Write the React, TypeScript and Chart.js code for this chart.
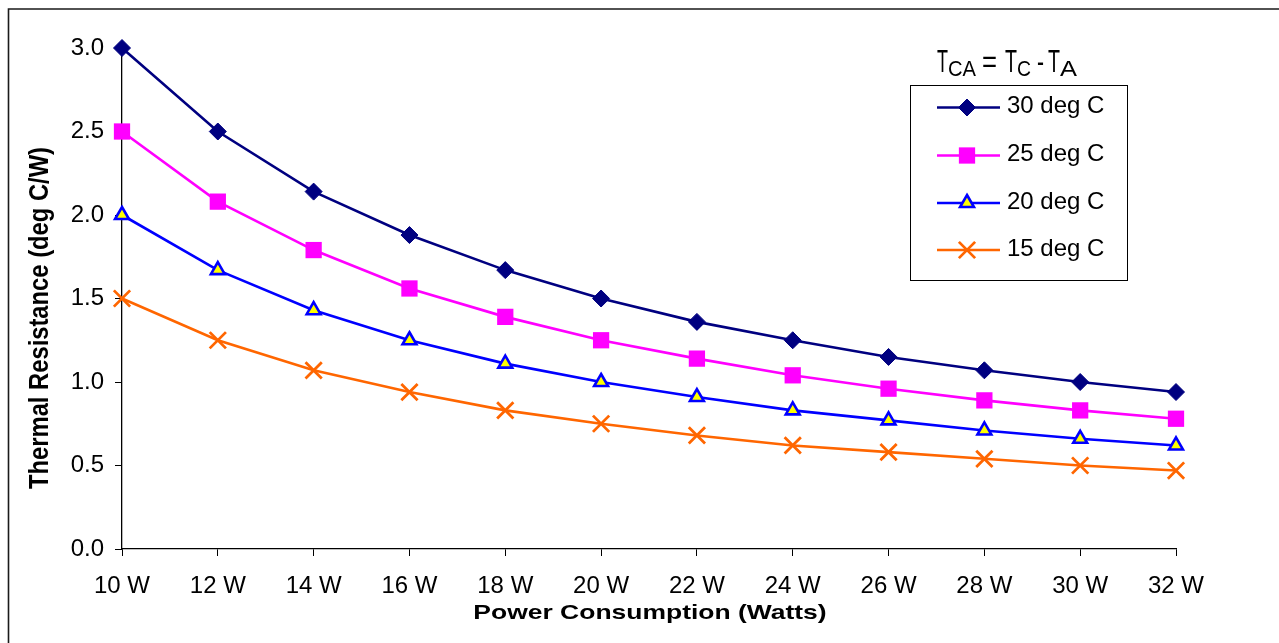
import React, { useEffect, useRef } from 'react';
import { Chart, registerables } from 'chart.js';
import { drawPoint } from 'chart.js/helpers';

Chart.register(...registerables);

// ---- data ----
const categories = ['10 W', '12 W', '14 W', '16 W', '18 W', '20 W', '22 W', '24 W', '26 W', '28 W', '30 W', '32 W'];
const seriesNames = ['30 deg C', '25 deg C', '20 deg C', '15 deg C'];
const values30 = [3.0, 2.5, 2.14, 1.88, 1.67, 1.5, 1.36, 1.25, 1.15, 1.07, 1.0, 0.94];
const values25 = [2.5, 2.08, 1.79, 1.56, 1.39, 1.25, 1.14, 1.04, 0.96, 0.89, 0.83, 0.78];
const values20 = [2.0, 1.67, 1.43, 1.25, 1.11, 1.0, 0.91, 0.83, 0.77, 0.71, 0.66, 0.62];
const values15 = [1.5, 1.25, 1.07, 0.94, 0.83, 0.75, 0.68, 0.62, 0.58, 0.54, 0.5, 0.47];
const yTickValues = [0, 0.5, 1.0, 1.5, 2.0, 2.5, 3.0];
const xTitle = 'Power Consumption (Watts)';
const yTitle = 'Thermal Resistance (deg C/W)';
const legendTitleParts = [
  { text: 'T', sub: false },
  { text: 'CA', sub: true },
  { text: '=', sub: false },
  { text: 'T', sub: false },
  { text: 'C', sub: true },
  { text: '-', sub: false },
  { text: 'T', sub: false },
  { text: 'A', sub: true },
];

const FONT = "'Liberation Sans', Arial, Helvetica, sans-serif";

// layout of legend title pieces (x, width)
const legendTitleLayout = [
  [937, 11], [948, 28], [982, 15], [1005, 12], [1017, 14], [1037, 7], [1048, 12], [1060, 17],
];

const decorPlugin = {
  id: 'decor',
  beforeDraw(chart: any) {
    const ctx = chart.ctx;
    ctx.save();
    ctx.fillStyle = '#ffffff';
    ctx.fillRect(0, 0, chart.width, chart.height);
    ctx.strokeStyle = '#1a1a1a';
    ctx.lineWidth = 1.6;
    ctx.beginPath();
    ctx.moveTo(8.5, chart.height + 2);
    ctx.lineTo(8.5, 9);
    ctx.lineTo(chart.width + 2, 9);
    ctx.stroke();
    ctx.restore();
  },
  afterDraw(chart: any) {
    const ctx = chart.ctx;
    const area = chart.chartArea;
    // axis titles
    ctx.save();
    ctx.fillStyle = '#000';
    ctx.font = `bold 21px ${FONT}`;
    ctx.textAlign = 'center';
    ctx.textBaseline = 'middle';
    ctx.translate((area.left + area.right) / 2 + 1, 613);
    ctx.scale(1.26, 1);
    ctx.fillText(xTitle, 0, 0);
    ctx.restore();

    ctx.save();
    ctx.fillStyle = '#000';
    ctx.font = `bold 22px ${FONT}`;
    ctx.textAlign = 'center';
    ctx.textBaseline = 'middle';
    ctx.translate(40, 318);
    ctx.rotate(-Math.PI / 2);
    ctx.scale(1.08, 1.25);
    ctx.fillText(yTitle, 0, 0);
    ctx.restore();

    // legend title
    legendTitleParts.forEach((p, i) => {
      const [x, w] = legendTitleLayout[i];
      ctx.save();
      ctx.fillStyle = '#000';
      ctx.font = `${p.sub ? 22 : 31}px ${FONT}`;
      ctx.textAlign = 'left';
      ctx.textBaseline = 'alphabetic';
      const m = ctx.measureText(p.text).width;
      ctx.translate(x, p.sub ? 76 : 72);
      ctx.scale(w / m, 1);
      ctx.fillText(p.text, 0, 0);
      ctx.restore();
    });

    // legend box
    ctx.save();
    ctx.fillStyle = '#fff';
    ctx.fillRect(910, 85, 218, 195);
    ctx.strokeStyle = '#000';
    ctx.lineWidth = 1;
    ctx.strokeRect(910.5, 85.5, 217, 195);
    const rows = [107.5, 155.5, 203, 250];
    chart.data.datasets.forEach((ds: any, i: number) => {
      const y = rows[i];
      ctx.strokeStyle = ds.borderColor;
      ctx.lineWidth = ds.borderWidth;
      ctx.beginPath();
      ctx.moveTo(937, y);
      ctx.lineTo(1000, y);
      ctx.stroke();
      ctx.fillStyle = ds.pointBackgroundColor;
      ctx.strokeStyle = ds.pointBorderColor;
      ctx.lineWidth = ds.pointBorderWidth;
      drawPoint(ctx, { pointStyle: ds.pointStyle, radius: ds.pointRadius, borderWidth: ds.pointBorderWidth, rotation: 0 }, 967, y);
      ctx.fillStyle = '#000';
      ctx.font = `24px ${FONT}`;
      ctx.textAlign = 'left';
      ctx.textBaseline = 'middle';
      ctx.fillText(ds.label, 1007, y - 1);
    });
    ctx.restore();
  },
};

export default function App() {
  const ref = useRef<HTMLCanvasElement | null>(null);
  useEffect(() => {
    document.body.style.margin = '0';
    document.body.style.overflow = 'hidden';
    const canvas = ref.current!;
    const mk = (label: string, data: number[], color: string, style: string, radius: number, bg: string, bw: number) => ({
      label,
      data,
      borderColor: color,
      backgroundColor: bg,
      borderWidth: 2.6,
      pointStyle: style,
      pointRadius: radius,
      pointHoverRadius: radius,
      pointBackgroundColor: bg,
      pointBorderColor: color,
      pointBorderWidth: bw,
      tension: 0,
      clip: false,
    });
    const chart = new Chart(canvas, {
      type: 'line',
      data: {
        labels: categories,
        datasets: [
          mk(seriesNames[0], values30, '#000080', 'rectRot', 8.5, '#000080', 1),
          mk(seriesNames[1], values25, '#FF00FF', 'rect', 11.5, '#FF00FF', 0),
          mk(seriesNames[2], values20, '#0000FF', 'triangle', 8, '#FFFF00', 2.6),
          mk(seriesNames[3], values15, '#FF6600', 'crossRot', 11.5, '#FF6600', 2.8),
        ],
      },
      options: {
        responsive: false,
        animation: false,
        events: [],
        layout: { padding: { left: 0, right: 103, top: 48, bottom: 0 } },
        plugins: { legend: { display: false }, tooltip: { enabled: false }, title: { display: false } },
        scales: {
          x: {
            type: 'category',
            offset: false,
            grid: { display: true, drawOnChartArea: false, drawTicks: true, tickLength: 7, color: '#000', lineWidth: 1 },
            border: { display: true, color: '#000', width: 1.3 },
            ticks: { color: '#000', font: { family: FONT, size: 24 }, padding: 16, maxRotation: 0, autoSkip: false },
            afterFit: (s: any) => { s.height = 94; },
          },
          y: {
            type: 'linear',
            min: 0,
            max: 3,
            grid: { display: true, drawOnChartArea: false, drawTicks: true, tickLength: 7, color: '#000', lineWidth: 1 },
            border: { display: true, color: '#000', width: 1.3 },
            ticks: { color: '#000', font: { family: FONT, size: 24 }, padding: 11, callback: (v: any) => Number(v).toFixed(1) },
            afterBuildTicks: (s: any) => { s.ticks = yTickValues.map((v) => ({ value: v })); },
            afterFit: (s: any) => { s.width = 122; },
          },
        },
      } as any,
      plugins: [decorPlugin],
    });
    return () => chart.destroy();
  }, []);
  return (
    <div style={{ width: 1279, height: 643, position: 'relative', overflow: 'hidden' }}>
      <canvas ref={ref} width={1279} height={643} style={{ display: 'block' }} />
    </div>
  );
}
